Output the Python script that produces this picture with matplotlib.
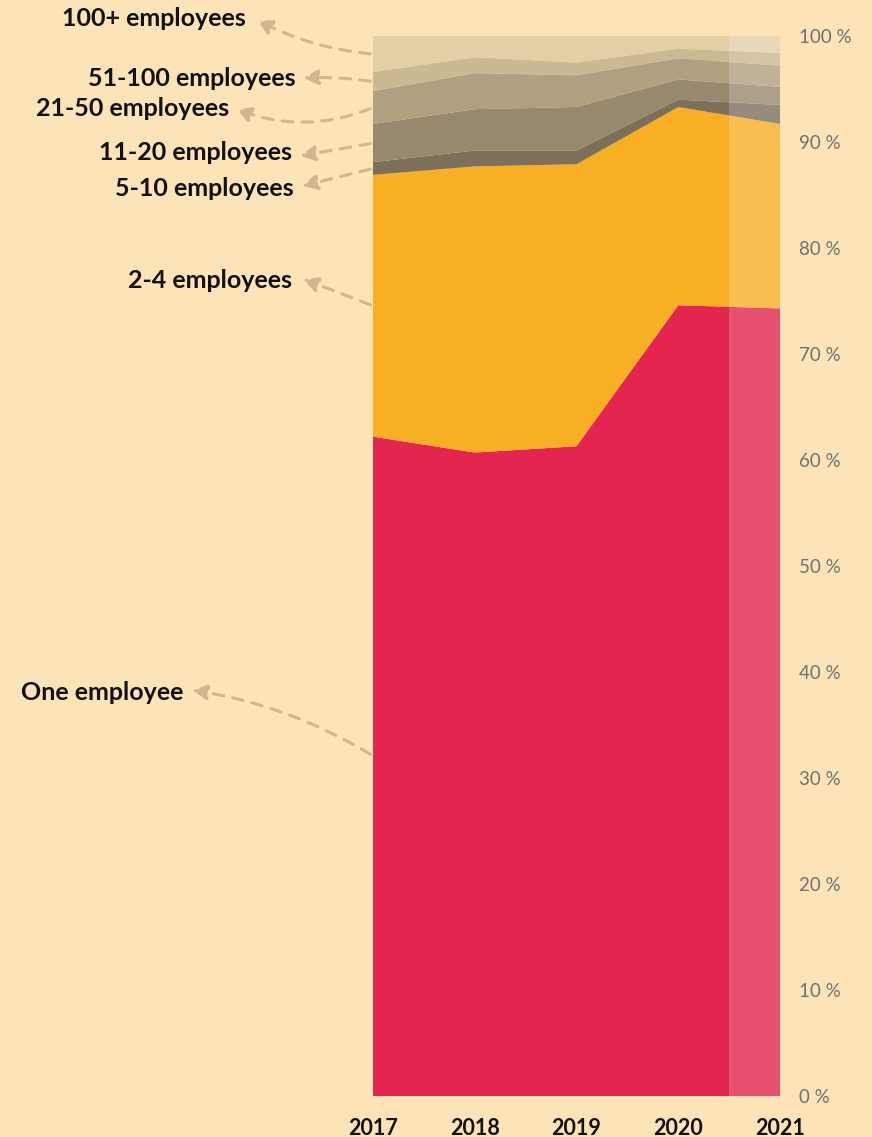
import matplotlib
matplotlib.use('Agg')
import matplotlib.pyplot as plt
import numpy as np

# data (share of companies by size, %)
years = [2017, 2018, 2019, 2020, 2021]
groups = ['One employee', '2-4 employees', '5-10 employees', '11-20 employees',
          '21-50 employees', '51-100 employees', '100+ employees']
one_emp   = [62.2, 60.7, 61.3, 74.6, 74.3]
emp_2_4   = [24.7, 27.0, 26.6, 18.7, 17.4]
emp_5_10  = [1.2, 1.5, 1.3, 0.7, 1.8]
emp_11_20 = [3.6, 3.9, 4.1, 1.9, 1.7]
emp_21_50 = [3.1, 3.4, 3.0, 2.0, 2.0]
emp_51_100 = [1.8, 1.5, 1.2, 0.9, 1.2]
emp_100p  = [3.4, 2.0, 2.5, 1.2, 1.6]
yticks = list(range(0, 101, 10))

BG = '#FDE4B8'
colores = ['#E3254F', '#F8AF24', '#7D705B', '#98896E', '#B1A080', '#CBB994', '#E3CFA6']
FLECHA = '#CFB88E'
FUENTE = 'Lato'

W, H = 872, 1137
fig = plt.figure(figsize=(W / 100, H / 100), dpi=100)
fig.patch.set_facecolor(BG)
ax = fig.add_axes([373 / W, (H - 1096) / H, 407 / W, 1060 / H])
ax.set_facecolor(BG)

series = [one_emp, emp_2_4, emp_5_10, emp_11_20, emp_21_50, emp_51_100, emp_100p]
ax.stackplot(years, *series, colors=colores, linewidth=0)
# 2021 is provisional -> lighter band
ax.axvspan(2020.5, 2021, color='white', alpha=0.2, lw=0, zorder=3)

ax.set_xlim(2017, 2021)
ax.set_ylim(0, 100)
for s in ax.spines.values():
    s.set_visible(False)

ax.yaxis.tick_right()
ax.set_yticks(yticks)
ax.set_yticklabels([f'{v} %' for v in yticks], family=FUENTE, fontsize=13.5, color='#707070', ha='left')
ax.tick_params(axis='y', length=0, pad=14)
ax.set_xticks(years)
ax.set_xticklabels([str(y) for y in years], family=FUENTE, fontweight='bold', fontsize=15.5, color='#111111')
ax.tick_params(axis='x', length=0, pad=16)

# labels with dashed arrows, positions in pixels from top
etiquetas = {
    '100+ employees':   (246, 18, 257, 20, -0.1),
    '51-100 employees': (296, 78, 303, 78, 0.05),
    '21-50 employees':  (229, 109, 236, 109, -0.2),
    '11-20 employees':  (292, 153, 300, 156, 0.0),
    '5-10 employees':   (294, 188, 302, 186, 0.0),
    '2-4 employees':    (292, 281, 303, 279, 0.0),
    'One employee':     (183, 692, 192, 690, 0.1),
}
acum = np.cumsum([s[0] for s in series])
medios = acum - np.array([s[0] for s in series]) / 2
medios[0] += 1
for i, g in enumerate(groups):
    tx, ty, hx, hy, rad = etiquetas[g]
    fig.text(tx / W, (H - ty) / H, g, ha='right', va='center', family=FUENTE,
             fontweight='bold', fontsize=18, color='#111111')
    ax.annotate('', xy=(hx, H - hy), xycoords='figure pixels',
                xytext=(2017, medios[i]), textcoords='data',
                arrowprops=dict(arrowstyle='-|>,head_length=0.9,head_width=0.45',
                                color=FLECHA, lw=2.2, linestyle=(0, (3.5, 3)),
                                shrinkA=2, shrinkB=0,
                                connectionstyle=f'arc3,rad={rad}'),
                annotation_clip=False)

plt.savefig('out.png', dpi=100, facecolor=BG)
